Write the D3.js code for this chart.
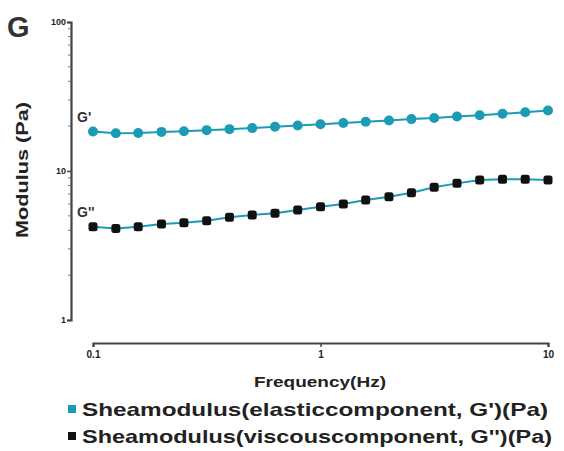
<!DOCTYPE html>
<html>
<head>
<meta charset="utf-8">
<script src="https://cdn.jsdelivr.net/npm/d3@7"></script>
<style>
  body { margin: 0; background: #fff; }
  svg { display: block; font-family: "Liberation Sans", Arial, sans-serif; }
</style>
</head>
<body>
<svg id="chart" width="564" height="451"></svg>
<script>
// frequencies (Hz), 10 points per decade
const freq = [0.1, 0.126, 0.158, 0.2, 0.251, 0.316, 0.398, 0.501, 0.631, 0.794,
  1, 1.26, 1.58, 2, 2.51, 3.16, 3.98, 5.01, 6.31, 7.94, 10];
// elastic component G' (Pa)
const gPrime = [18.4, 17.9, 18.0, 18.3, 18.5, 18.8, 19.1, 19.4, 19.8, 20.2,
  20.6, 21.0, 21.4, 21.8, 22.3, 22.7, 23.2, 23.7, 24.2, 24.8, 25.5];
// viscous component G'' (Pa)
const gDouble = [4.23, 4.12, 4.23, 4.41, 4.50, 4.64, 4.89, 5.07, 5.20, 5.47,
  5.75, 6.01, 6.38, 6.72, 7.15, 7.78, 8.26, 8.71, 8.80, 8.80, 8.71];
const xTicks = [0.1, 1, 10];
const yTicks = [1, 10, 100];
const legendLabels = [
  "Sheamodulus(elasticcomponent, G')(Pa)",
  "Sheamodulus(viscouscomponent, G'')(Pa)"
];
const teal = '#1b9bb4';
const dark = '#111';

const svg = d3.select('#chart');

const x = d3.scaleLog().domain([0.1, 10]).range([93, 548]);
const y = d3.scaleLog().domain([1, 100]).range([320, 22]);

// y axis
const yAxis = svg.append('g')
  .attr('transform', 'translate(71,0)')
  .call(d3.axisLeft(y).tickValues(yTicks).tickFormat(d3.format('d')).tickSize(4));
yAxis.select('.domain').attr('stroke', '#444').attr('stroke-width', 2.2);
yAxis.selectAll('.tick line').attr('stroke', '#444').attr('stroke-width', 1.5);
yAxis.selectAll('.tick text').attr('font-size', 9).attr('font-weight', 'bold')
  .attr('fill', '#222').attr('x', -5);

// y minor ticks
const yMinor = [];
[1, 10].forEach(b => { for (let k = 2; k <= 9; k++) yMinor.push(b * k); });
svg.append('g').selectAll('line').data(yMinor).join('line')
  .attr('x1', 68).attr('x2', 71)
  .attr('y1', d => y(d)).attr('y2', d => y(d))
  .attr('stroke', '#777').attr('stroke-width', 1);

// x axis
const xAxis = svg.append('g')
  .attr('transform', 'translate(0,343)')
  .call(d3.axisBottom(x).tickValues(xTicks).tickFormat(d => d).tickSize(4));
xAxis.select('.domain').attr('stroke', '#444').attr('stroke-width', 2.2);
xAxis.selectAll('.tick line').attr('stroke', '#444').attr('stroke-width', 1.5);
xAxis.selectAll('.tick text').attr('font-size', 10).attr('font-weight', 'bold')
  .attr('fill', '#222').attr('y', 8);

// axis titles
svg.append('text')
  .attr('x', 320).attr('y', 387)
  .attr('text-anchor', 'middle')
  .attr('font-size', 15).attr('font-weight', 'bold').attr('fill', '#222')
  .attr('textLength', 132).attr('lengthAdjust', 'spacingAndGlyphs')
  .text('Frequency(Hz)');

svg.append('text')
  .attr('transform', 'translate(28,170) rotate(-90)')
  .attr('text-anchor', 'middle')
  .attr('font-size', 17).attr('font-weight', 'bold').attr('fill', '#222')
  .attr('textLength', 136).attr('lengthAdjust', 'spacingAndGlyphs')
  .text('Modulus (Pa)');

// panel label
svg.append('text')
  .attr('x', 7).attr('y', 37)
  .attr('font-size', 29).attr('font-weight', 'bold').attr('fill', '#333')
  .text('G');

const line = d3.line().x((d, i) => x(freq[i])).y(d => y(d));

// G' series
svg.append('path').datum(gPrime)
  .attr('d', line).attr('fill', 'none')
  .attr('stroke', teal).attr('stroke-width', 2);
svg.append('g').selectAll('circle').data(gPrime).join('circle')
  .attr('cx', (d, i) => x(freq[i])).attr('cy', d => y(d))
  .attr('r', 5).attr('fill', teal);

// G'' series
svg.append('path').datum(gDouble)
  .attr('d', line).attr('fill', 'none')
  .attr('stroke', teal).attr('stroke-width', 2);
svg.append('g').selectAll('rect').data(gDouble).join('rect')
  .attr('x', (d, i) => x(freq[i]) - 4.5).attr('y', d => y(d) - 4.5)
  .attr('width', 9).attr('height', 9).attr('rx', 2.5)
  .attr('fill', dark);

// series labels
svg.append('text').attr('x', 77).attr('y', 122)
  .attr('font-size', 14).attr('font-weight', 'bold').attr('fill', '#333')
  .text("G'");
svg.append('text').attr('x', 77).attr('y', 217)
  .attr('font-size', 14).attr('font-weight', 'bold').attr('fill', '#333')
  .text("G''");

// legend
const legend = svg.append('g');
const rowY = [409, 436];
const rowW = [466, 470];
[teal, dark].forEach((c, i) => {
  legend.append('rect')
    .attr('x', 68).attr('y', rowY[i] - 4)
    .attr('width', 8).attr('height', 8).attr('fill', c);
  legend.append('text')
    .attr('x', 82).attr('y', rowY[i] + 7)
    .attr('font-size', 19).attr('font-weight', 'bold').attr('fill', '#222')
    .attr('textLength', rowW[i]).attr('lengthAdjust', 'spacingAndGlyphs')
    .text(legendLabels[i]);
});
</script>
</body>
</html>
